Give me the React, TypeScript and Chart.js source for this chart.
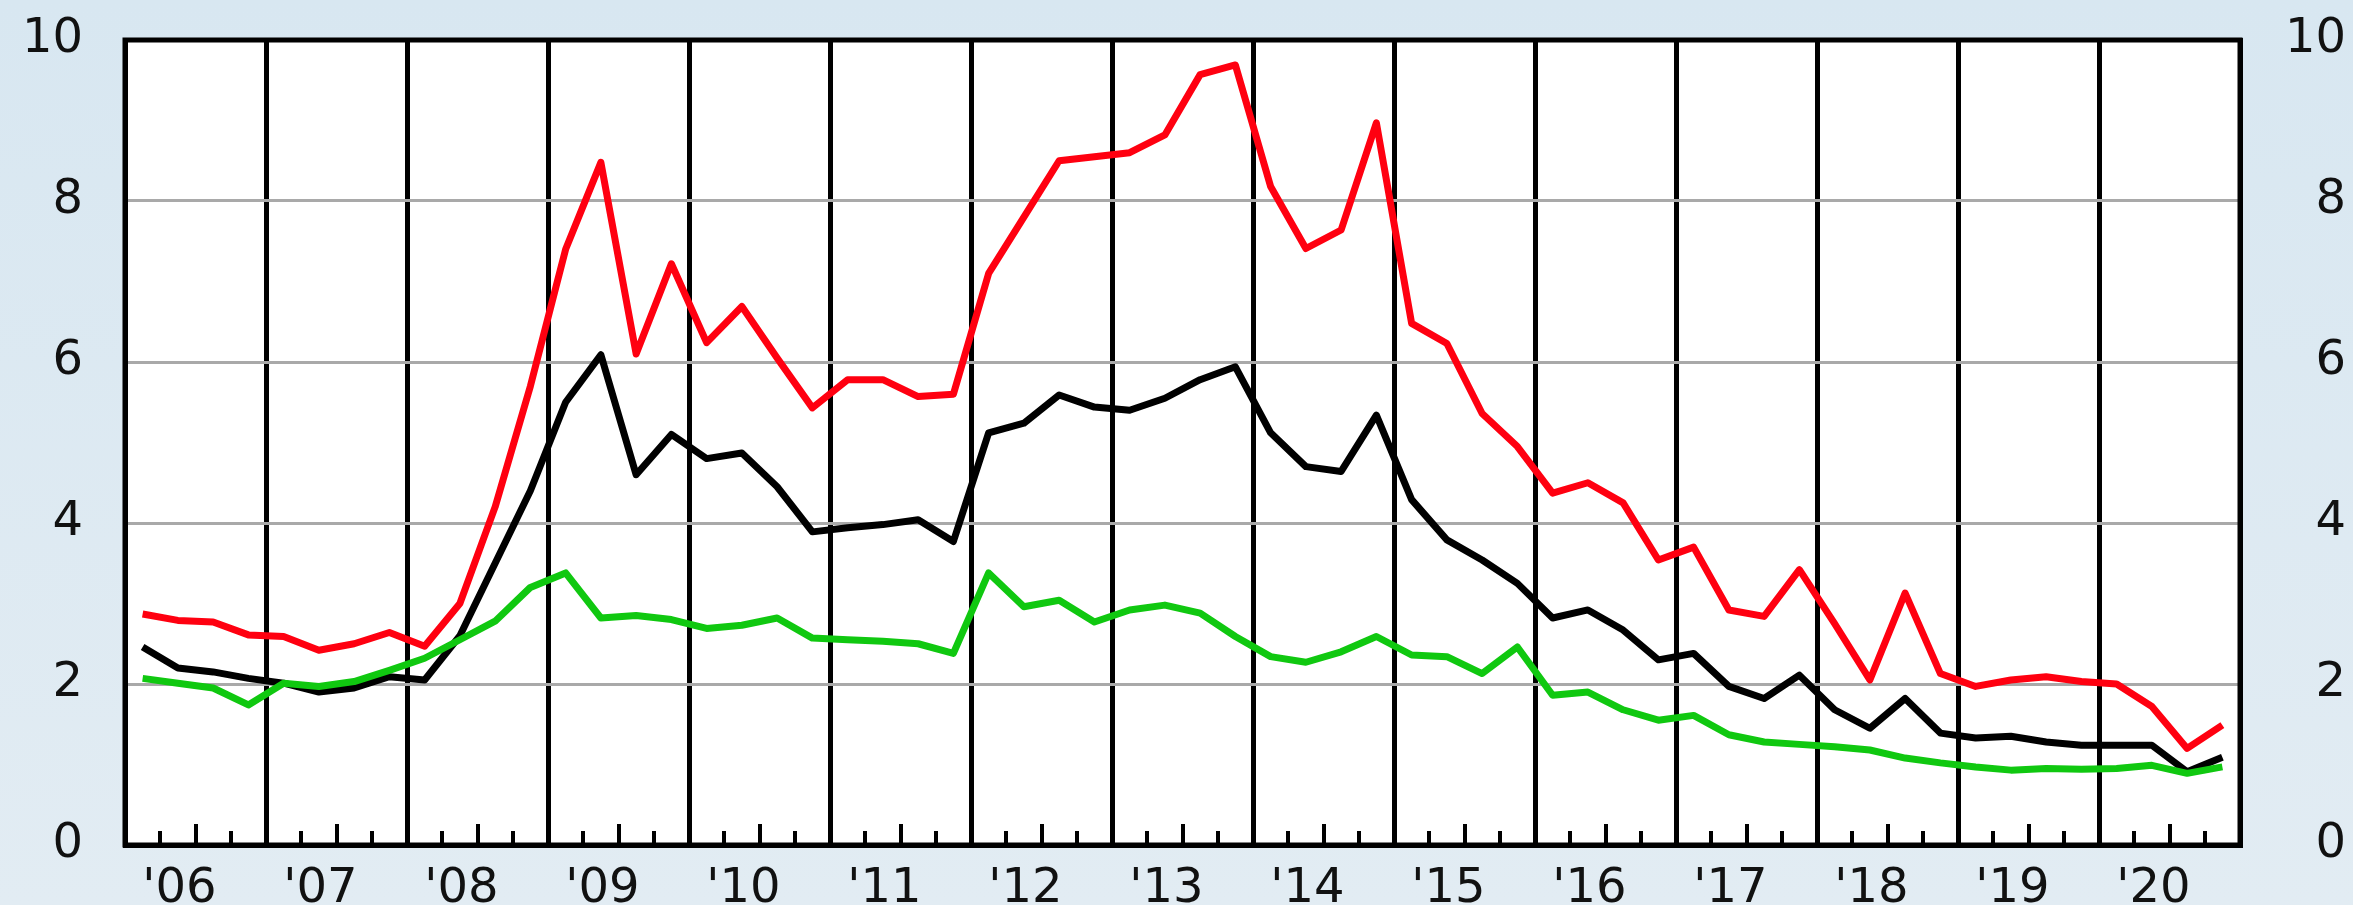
import React, { useEffect, useRef } from 'react';
import { Chart, registerables } from 'chart.js';

Chart.register(...registerables);

// Quarterly observations, 2006 Q1 .. 2020 Q4
const years: number[] = [2006, 2007, 2008, 2009, 2010, 2011, 2012, 2013, 2014, 2015, 2016, 2017, 2018, 2019, 2020];
const quarters: number[] = [1, 2, 3, 4];

const redSeries: number[] = [
  2.87, 2.79, 2.77, 2.61,
  2.59, 2.42, 2.5, 2.64,
  2.47, 3.0, 4.2, 5.7,
  7.4, 8.48, 6.1, 7.22,
  6.24, 6.69, 6.05, 5.43,
  5.78, 5.78, 5.57, 5.6,
  7.1, 7.8, 8.5, 8.55,
  8.6, 8.82, 9.57, 9.69,
  8.18, 7.41, 7.64, 8.97,
  6.48, 6.23, 5.36, 4.95,
  4.37, 4.5, 4.25, 3.54,
  3.7, 2.92, 2.84, 3.42,
  2.75, 2.05, 3.13, 2.13,
  1.97, 2.05, 2.09, 2.03,
  2.0, 1.72, 1.2, 1.49,
];

const blackSeries: number[] = [
  2.46, 2.2, 2.15, 2.07,
  2.01, 1.9, 1.95, 2.09,
  2.05, 2.6, 3.5, 4.4,
  5.5, 6.09, 4.6, 5.1,
  4.8, 4.87, 4.45, 3.89,
  3.94, 3.98, 4.04, 3.77,
  5.12, 5.24, 5.59, 5.44,
  5.4, 5.55, 5.78, 5.94,
  5.12, 4.7, 4.64, 5.34,
  4.29, 3.79, 3.54, 3.25,
  2.82, 2.92, 2.67, 2.3,
  2.38, 1.97, 1.82, 2.11,
  1.68, 1.45, 1.82, 1.39,
  1.33, 1.35, 1.28, 1.24,
  1.24, 1.24, 0.91, 1.09,
];

const greenSeries: number[] = [
  2.07, 2.01, 1.95, 1.74,
  2.01, 1.97, 2.03, 2.17,
  2.32, 2.55, 2.78, 3.2,
  3.38, 2.82, 2.85, 2.8,
  2.69, 2.73, 2.82, 2.57,
  2.55, 2.53, 2.5, 2.38,
  3.38, 2.96, 3.04, 2.77,
  2.92, 2.98, 2.88, 2.59,
  2.34, 2.27, 2.4, 2.59,
  2.36, 2.34, 2.13, 2.46,
  1.86, 1.9, 1.68, 1.55,
  1.61, 1.37, 1.28, 1.25,
  1.22, 1.18, 1.08, 1.02,
  0.97, 0.93, 0.95, 0.94,
  0.95, 0.99, 0.89, 0.97,
];

const yTicks: number[] = [0, 2, 4, 6, 8, 10];

// x position of each observation: middle of its quarter
const xPositions: number[] = years.flatMap((y) => quarters.map((q) => y + (q - 0.5) / 4));
// quarter boundaries for the axis (year lines + quarter tick marks)
const boundaries: number[] = [...years.flatMap((y) => quarters.map((q) => y + (q - 1) / 4)), years[years.length - 1] + 1];

const toPoints = (vals: number[]) => vals.map((v, i) => ({ x: xPositions[i], y: v }));

const FONT = { family: '"DejaVu Sans", sans-serif', size: 48 };

const backgroundPlugin = {
  id: 'bgFill',
  beforeDraw(chart: any) {
    const { ctx, chartArea, width, height } = chart;
    ctx.save();
    const g = ctx.createLinearGradient(0, 0, 0, height);
    g.addColorStop(0, '#d8e7f1');
    g.addColorStop(1, '#e2ecf3');
    ctx.fillStyle = g;
    ctx.fillRect(0, 0, width, height);
    ctx.fillStyle = '#ffffff';
    ctx.fillRect(chartArea.left, chartArea.top, chartArea.right - chartArea.left, chartArea.bottom - chartArea.top);
    ctx.restore();
  },
};

const quarterTicksPlugin = {
  id: 'quarterTicks',
  beforeDatasetsDraw(chart: any) {
    const { ctx, chartArea, scales } = chart;
    const xs = scales.x;
    ctx.save();
    ctx.strokeStyle = '#000';
    ctx.lineWidth = 4;
    boundaries.forEach((v) => {
      const frac = v - Math.floor(v);
      if (frac === 0) return;
      const len = frac === 0.5 ? 21 : 14;
      const px = Math.round(xs.getPixelForValue(v));
      ctx.beginPath();
      ctx.moveTo(px, chartArea.bottom);
      ctx.lineTo(px, chartArea.bottom - len);
      ctx.stroke();
    });
    ctx.restore();
  },
};

const framePlugin = {
  id: 'frame',
  afterDraw(chart: any) {
    const { ctx, chartArea } = chart;
    ctx.save();
    ctx.strokeStyle = '#000';
    ctx.lineWidth = 5;
    ctx.strokeRect(chartArea.left, chartArea.top, chartArea.right - chartArea.left, chartArea.bottom - chartArea.top);
    ctx.restore();
  },
};

const fitY = (w: number) => (scale: any) => {
  scale.width = w;
  scale.paddingTop = 0;
  scale.paddingBottom = 0;
};

export default function App() {
  const canvasRef = useRef<HTMLCanvasElement | null>(null);

  useEffect(() => {
    const canvas = canvasRef.current;
    if (!canvas) return;
    const lineDs = (data: number[], color: string) => ({
      data: toPoints(data),
      borderColor: color,
      backgroundColor: color,
      borderWidth: 7,
      pointRadius: 0,
      tension: 0,
      borderJoinStyle: 'round' as const,
      fill: false,
    });
    const chart = new Chart(canvas, {
      type: 'line',
      data: {
        datasets: [
          lineDs(greenSeries, '#10c810'),
          lineDs(blackSeries, '#000000'),
          lineDs(redSeries, '#ff0010'),
        ],
      },
      plugins: [backgroundPlugin, quarterTicksPlugin, framePlugin],
      options: {
        animation: false,
        responsive: false,
        devicePixelRatio: 1,
        layout: { padding: { top: 40, left: 0, right: 7, bottom: 0 } },
        plugins: { legend: { display: false }, tooltip: { enabled: false } },
        scales: {
          x: {
            type: 'linear',
            min: years[0],
            max: years[years.length - 1] + 1,
            afterBuildTicks: (scale: any) => {
              scale.ticks = boundaries.map((v) => ({ value: v }));
            },
            afterFit: (scale: any) => {
              scale.height = 60;
              scale.paddingLeft = 0;
              scale.paddingRight = 0;
            },
            grid: {
              drawTicks: false,
              color: (ctx: any) => (ctx.tick && Number.isInteger(ctx.tick.value) ? '#000000' : 'rgba(0,0,0,0)'),
              lineWidth: (ctx: any) => (ctx.tick && Number.isInteger(ctx.tick.value) ? 5 : 0),
            },
            border: { display: true, color: '#000', width: 5 },
            ticks: {
              autoSkip: false,
              maxRotation: 0,
              minRotation: 0,
              padding: 16,
              labelOffset: -16,
              color: '#111111',
              font: FONT,
              callback: (value: any) => {
                const v = Number(value);
                if (v - Math.floor(v) !== 0.5) return '';
                return "'" + String(Math.floor(v)).slice(2);
              },
            },
          },
          y: {
            position: 'left',
            min: 0,
            max: 10,
            afterBuildTicks: (scale: any) => {
              scale.ticks = yTicks.map((v) => ({ value: v }));
            },
            afterFit: fitY(125),
            grid: {
              drawTicks: false,
              color: (ctx: any) => (ctx.tick && (ctx.tick.value === 0 || ctx.tick.value === 10) ? 'rgba(0,0,0,0)' : '#a9a9a9'),
              lineWidth: 3,
            },
            border: { display: true, color: '#000', width: 5 },
            ticks: { padding: 42, color: '#111111', font: FONT },
          },
          y2: {
            position: 'right',
            min: 0,
            max: 10,
            afterBuildTicks: (scale: any) => {
              scale.ticks = yTicks.map((v) => ({ value: v }));
            },
            afterFit: fitY(106),
            grid: { display: false, drawTicks: false },
            border: { display: true, color: '#000', width: 5 },
            ticks: { padding: 31, crossAlign: 'far', color: '#111111', font: FONT },
          },
        },
      },
    } as any);
    return () => chart.destroy();
  }, []);

  return (
    <div style={{ position: 'fixed', left: 0, top: 0, width: 2353, height: 905, background: '#dde9f1' }}>
      <canvas ref={canvasRef} width={2353} height={905} style={{ display: 'block', width: 2353, height: 905 }} />
    </div>
  );
}
